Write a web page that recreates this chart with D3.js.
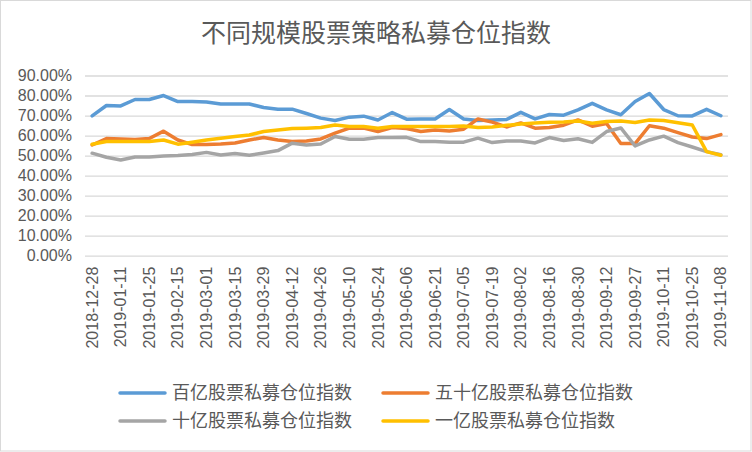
<!DOCTYPE html>
<html><head><meta charset="utf-8">
<script src="https://cdn.jsdelivr.net/npm/d3@7"></script>
<style>
html,body{margin:0;padding:0;background:#fff;}
svg{display:block;}
</style></head>
<body>
<svg id="chart" width="752" height="452"></svg>
<script>
const title = "不同规模股票策略私募仓位指数";
const dates = ["2018-12-28","2019-01-04","2019-01-11","2019-01-18","2019-01-25","2019-02-01","2019-02-15","2019-02-22","2019-03-01","2019-03-08","2019-03-15","2019-03-22","2019-03-29","2019-04-04","2019-04-12","2019-04-19","2019-04-26","2019-04-30","2019-05-10","2019-05-17","2019-05-24","2019-05-31","2019-06-06","2019-06-14","2019-06-21","2019-06-28","2019-07-05","2019-07-12","2019-07-19","2019-07-26","2019-08-02","2019-08-09","2019-08-16","2019-08-23","2019-08-30","2019-09-06","2019-09-12","2019-09-20","2019-09-27","2019-09-30","2019-10-11","2019-10-18","2019-10-25","2019-11-01","2019-11-08"];
const seriesNames = ["百亿股票私募仓位指数","五十亿股票私募仓位指数","十亿股票私募仓位指数","一亿股票私募仓位指数"];
const blue = [69.8,75.0,74.8,78.0,78.0,80.0,77.0,77.0,76.8,75.8,75.8,75.8,74.0,73.2,73.2,71.0,68.7,67.5,69.2,69.7,67.8,71.5,68.2,68.3,68.3,73.0,68.3,67.5,67.8,68.0,71.6,68.3,70.5,70.2,72.8,76.1,72.8,70.4,77.0,81.0,73.0,69.9,69.8,73.1,69.9];
const orange = [55.3,58.5,58.3,58.0,58.5,62.2,57.8,55.5,55.5,55.8,56.3,57.8,59.0,57.8,57.0,57.3,58.3,61.2,63.7,63.7,62.0,64.0,63.5,62.0,62.8,62.3,63.2,68.3,66.7,64.3,66.3,63.7,64.0,65.2,67.8,64.7,66.0,56.0,56.0,64.9,63.7,61.5,59.3,58.5,60.5];
const gray = [51.2,49.2,47.8,49.3,49.3,49.8,50.0,50.5,51.6,50.3,51.0,50.2,51.3,52.5,56.2,55.3,55.8,59.5,58.2,58.2,59.0,59.0,59.1,57.0,57.0,56.7,56.7,58.7,56.5,57.3,57.3,56.3,59.0,57.5,58.4,56.6,62.0,63.8,54.8,57.8,59.7,56.5,54.3,52.0,50.4];
const yellow = [55.7,57.0,57.0,57.0,57.0,57.8,55.7,56.7,57.8,58.7,59.5,60.3,62.0,62.8,63.5,63.7,64.0,65.3,64.5,64.5,63.7,64.5,64.5,64.5,64.5,64.5,64.8,64.0,64.3,65.1,65.8,66.3,66.6,66.8,67.3,66.2,67.0,67.3,66.5,67.8,67.5,66.4,65.3,52.0,50.2];
const yTicks = [0,10,20,30,40,50,60,70,80,90];
const colors = ["#5B9BD5","#ED7D31","#A5A5A5","#FFC000"];
const allSeries = [blue, orange, gray, yellow];

const svg = d3.select("#chart");
const W = 752, H = 452;
const m = {left:85, right:24, top:75.5, bottom:196.3};
const x = d3.scaleBand().domain(dates).range([m.left, W - m.right]);
const y = d3.scaleLinear().domain([0, 90]).range([H - m.bottom, m.top]);
const font = "'Liberation Sans', Arial, sans-serif";
const cjk = "'Noto Sans CJK SC', 'Noto Sans', sans-serif";

svg.append("rect").attr("x",0.5).attr("y",0.5).attr("width",W-1.5).attr("height",H-1.5)
  .attr("fill","#fff").attr("stroke","#d9d9d9").attr("stroke-width",1);

svg.append("text").attr("x", 376).attr("y", 42).attr("text-anchor","middle")
  .attr("font-family", cjk).attr("font-size", 25).attr("fill","#595959").text(title);

// gridlines
const yAxis = d3.axisLeft(y).tickValues(yTicks).tickSize(-(W - m.right - m.left))
  .tickFormat(d => d3.format(".2f")(d) + "%");
const gy = svg.append("g").attr("transform", `translate(${m.left},0)`).call(yAxis);
gy.select(".domain").remove();
gy.selectAll(".tick line").attr("stroke","#d9d9d9").attr("stroke-width",1.3);
gy.selectAll(".tick text").attr("x", -13).attr("font-family", font).attr("font-size", 16).attr("fill","#595959");

// x axis labels
const xAxis = d3.axisBottom(x).tickValues(dates.filter((d,i)=>i%2===0)).tickSize(0);
const gx = svg.append("g").attr("transform", `translate(0,${H - m.bottom})`).call(xAxis);
gx.select(".domain").remove();
gx.selectAll(".tick text")
  .attr("font-family", font).attr("font-size", 16).attr("fill","#595959")
  .attr("transform","rotate(-90)").attr("text-anchor","end")
  .attr("x", -11).attr("y", 0).attr("dy","0.35em");

const line = d3.line().x((d,i)=>x(dates[i]) + x.bandwidth()/2).y(d=>y(d)).curve(d3.curveLinear);
allSeries.forEach((s, k) => {
  svg.append("path").datum(s).attr("d", line).attr("fill","none")
    .attr("stroke", colors[k]).attr("stroke-width", 3.5)
    .attr("stroke-linejoin","round").attr("stroke-linecap","round");
});

// legend
const legendPos = [[120,393],[383,393],[120,421],[383,421]];
seriesNames.forEach((n,k) => {
  const [lx, ly] = legendPos[k];
  svg.append("line").attr("x1",lx).attr("x2",lx+45).attr("y1",ly).attr("y2",ly)
    .attr("stroke",colors[k]).attr("stroke-width",3.5).attr("stroke-linecap","round");
  svg.append("text").attr("x",lx+52).attr("y",ly).attr("dy","0.35em")
    .attr("font-family",cjk).attr("font-size",18).attr("fill","#595959").text(n);
});
</script>
</body></html>
